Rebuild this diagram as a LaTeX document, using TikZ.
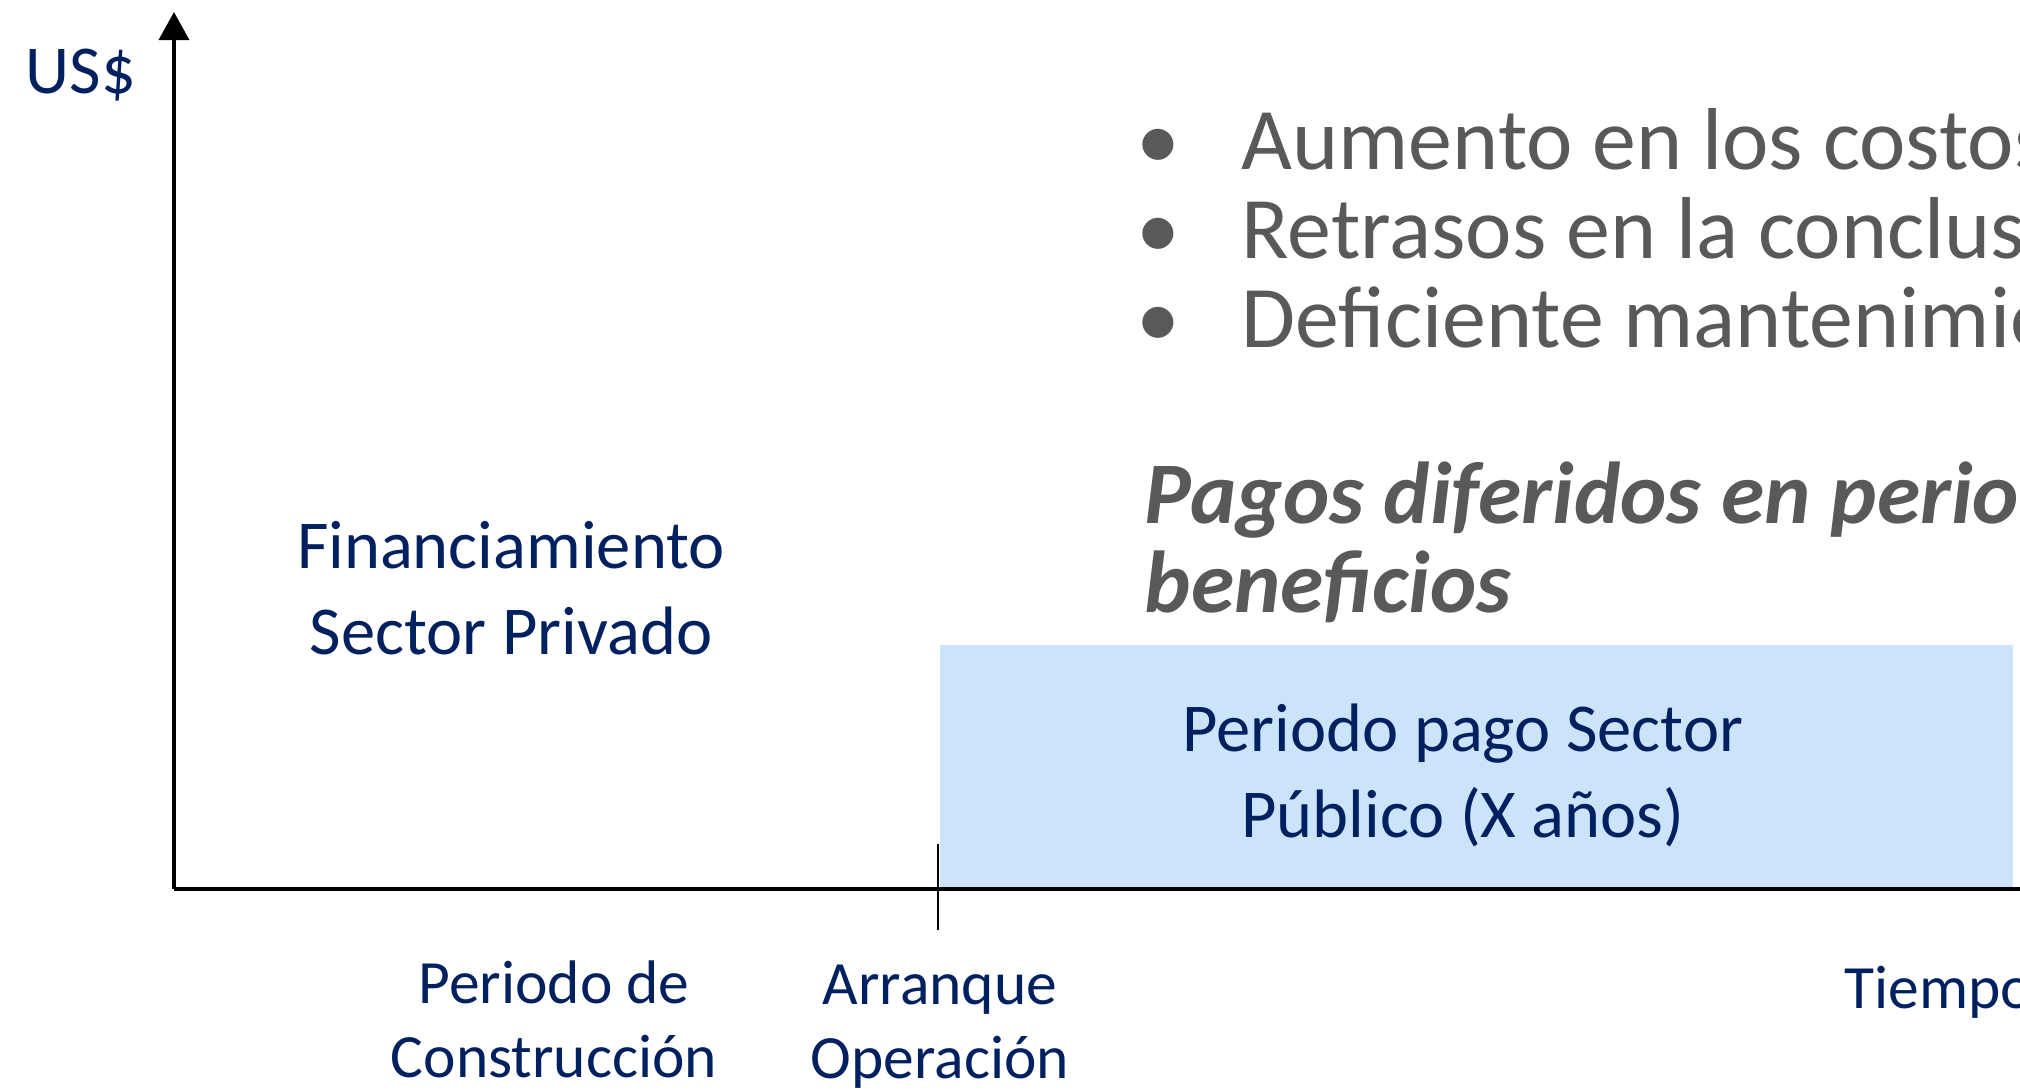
\documentclass[tikz,border=0pt]{standalone}
\usepackage{fontspec}
\setmainfont{Carlito}
\usepackage{tikz}
\usetikzlibrary{arrows.meta,positioning}

\definecolor{navy}{HTML}{002060}
\definecolor{paleblue}{HTML}{CCE4FA}
\definecolor{textgray}{HTML}{595959}

\begin{document}
\begin{tikzpicture}[
    axis/.style={line width=1pt, black},
    bluetxt/.style={text=navy, align=center, font=\fontsize{19.5}{24.2}\selectfont, inner sep=0pt},
    timetxt/.style={text=navy, align=center, font=\fontsize{17.5}{21}\selectfont, inner sep=0pt},
    graytxt/.style={text=textgray, align=left, font=\fontsize{25}{25.2}\selectfont, inner sep=0pt},
    paybox/.style={rectangle, fill=paleblue, minimum width=10.73cm, minimum height=2.43cm, inner sep=0pt}
]
\useasboundingbox (-1.74,-2.01) rectangle (18.46,8.89);
\clip (-1.74,-2.01) rectangle (18.46,8.89);

% Payment box
\node[paybox, anchor=south west] (pago) at (7.65,0) {};
\node[bluetxt, anchor=base] (pagotxt) at (12.89,0.52) {Periodo pago Sector\\P\'ublico (X a\~nos)};

% Axes
\coordinate (O) at (0,0);
\coordinate (ytop) at (0,8.77);
\coordinate (xend) at (18.7,0);
\coordinate (ticktop) at (7.64,0.45);
\coordinate (tickbot) at (7.64,-0.41);
\draw[axis, -{Triangle[width=0.3cm,length=0.28cm]}] (O) -- (ytop);
\draw[axis] (O) -- (xend);
\draw[line width=0.6pt] (ticktop) -- (tickbot);

% Labels
\node[bluetxt, anchor=base west] (usd) at (-1.49,7.96) {US\$};
\node[bluetxt, anchor=base] (privado) at (3.37,2.35) {Financiamiento\\Sector Privado};
\node[timetxt, anchor=base] (constr) at (3.80,-1.88) {Periodo de\\Construcci\'on};
\node[timetxt, anchor=base] (arranque) at (7.66,-1.89) {Arranque\\Operaci\'on};
\node[timetxt, anchor=base west] (tiempo) at (16.70,-1.19) {Tiempo};

% Risks
\node[graytxt, anchor=base west] (riesgos) at (9.62,5.42) {\makebox[1.05cm][l]{\textbullet}Aumento en los costos\\
    \makebox[1.05cm][l]{\textbullet}Retrasos en la conclusi\'on\\
    \makebox[1.05cm][l]{\textbullet}Deficiente mantenimiento};
\node[graytxt, font=\fontsize{25}{25.2}\selectfont\bfseries\itshape, anchor=base west] (pagos) at (9.70,2.77) {Pagos diferidos en periodo\\beneficios};

\end{tikzpicture}
\end{document}
